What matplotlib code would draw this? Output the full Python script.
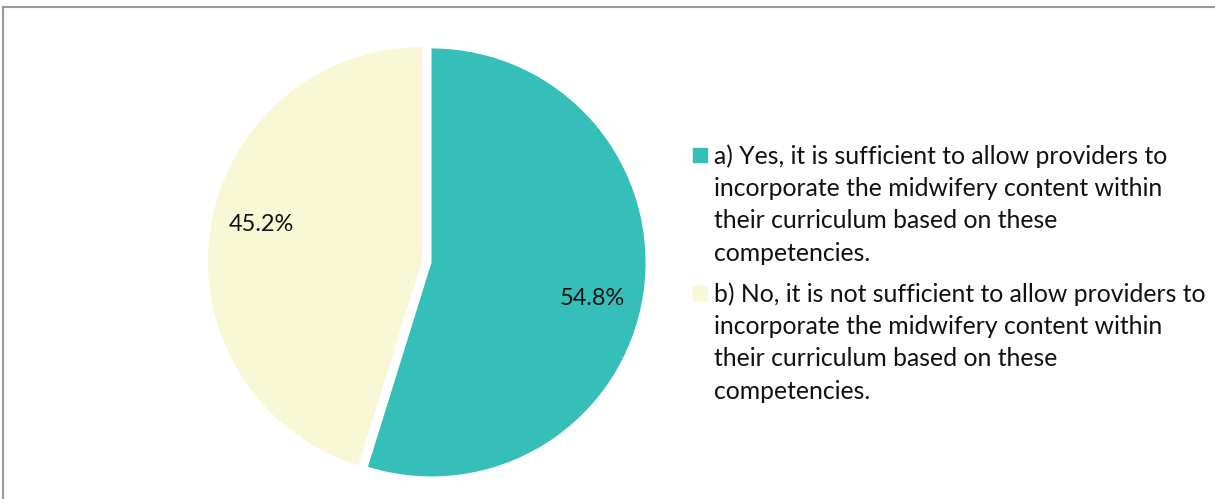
import numpy as np
import matplotlib.pyplot as plt
from matplotlib.lines import Line2D
from matplotlib.patches import Rectangle

plt.rcParams['font.family'] = ['Lato', 'DejaVu Sans']

# data
labels = ["a) Yes, it is sufficient to allow providers to\nincorporate the midwifery content within\ntheir curriculum based on these\ncompetencies.",
          "b) No, it is not sufficient to allow providers to\nincorporate the midwifery content within\ntheir curriculum based on these\ncompetencies."]
shares = [54.8, 45.2]
colors = ['#35BFB8', '#F8F8D6']

W, H = 1215, 499
fig = plt.figure(figsize=(W / 100, H / 100), dpi=100)

# pie axes: centre at (422, 261) px, radius 214 px
cx, cy, r = 422, 261, 214
ax = fig.add_axes([(cx - 250) / W, (H - cy - 230) / H, 500 / W, 460 / H])

wedges, texts, autotexts = ax.pie(shares, colors=colors, startangle=90, counterclock=False,
                                  explode=[0.045, 0], autopct='%.1f%%', pctdistance=0.76,
                                  textprops={'fontsize': 16.9, 'color': '#111111'},
                                  wedgeprops={'linewidth': 0}, frame=False)
# excel's best-fit puts the labels a little clockwise of the slice middle
for w, t in zip(wedges, autotexts):
    ang = np.deg2rad((w.theta1 + w.theta2) / 2 - 4)
    x, y = w.center
    t.set_position((x + 0.77 * np.cos(ang), y + 0.77 * np.sin(ang)))

ax.set_aspect('auto')
ax.set_xlim(-250 / r, 250 / r)
ax.set_ylim(-230 / r, 230 / r)
ax.axis('off')

# legend, drawn by hand so the square sits on the first line
x0, base0, gap = 693, 162, 138
for i, (lab, col) in enumerate(zip(labels, colors)):
    base = base0 + i * gap
    fig.patches.append(Rectangle((x0 / W, (H - base) / H), 14 / W, 14 / H,
                                 transform=fig.transFigure, color=col, figure=fig))
    fig.text((x0 + 21) / W, (H - base + 18) / H, lab, fontsize=17.8, color='#111111',
             va='top', ha='left', linespacing=1.49)

# chart frame
fig.add_artist(Line2D([3 / W, 1], [(H - 7) / H] * 2, color='#9a9a9a', lw=1.5, transform=fig.transFigure))
fig.add_artist(Line2D([3 / W] * 2, [0, (H - 7) / H], color='#9a9a9a', lw=1.5, transform=fig.transFigure))

fig.savefig('out.png', dpi=100, facecolor='white')
